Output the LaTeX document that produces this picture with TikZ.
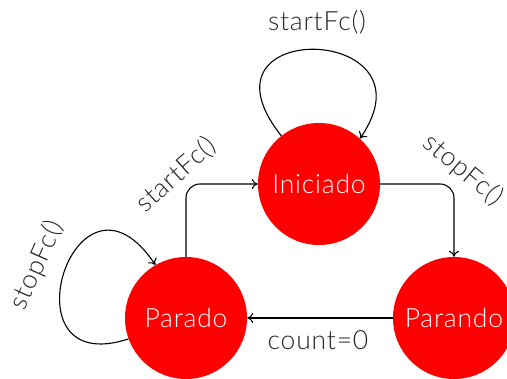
\documentclass[tikz,border=0pt]{standalone}
\usepackage{fontspec}
\setmainfont{Lato}[UprightFont=* Light, LetterSpace=3]
\usetikzlibrary{arrows.meta}
\tikzset{
  state/.style={circle, fill=red, draw=none, minimum size=122pt, inner sep=0pt, text=white, font=\fontsize{26.5}{30}\selectfont},
  lbl/.style={font=\fontsize{26.5}{30}\selectfont, text=black!85, inner sep=0pt},
  edge/.style={line width=1.1pt, -{To[length=6pt,width=10pt]}}
}
\begin{document}
\begin{tikzpicture}[x=1pt,y=1pt]
\useasboundingbox (0,0) rectangle (507,379);
\node[state] (ini) at (319,195) {Iniciado};
\node[state] (par) at (186,61) {Parado};
\node[state] (pnd) at (454,61) {Parando};
% self loops
\draw[edge] (ini.128) .. controls +(-95,119) and +(80,115) .. (ini.48);
\draw[edge] (par.200) .. controls +(-128,-42) and +(-80,120) .. (par.120);
% transitions
\draw[edge, rounded corners=14pt] (ini.east) -| (pnd.north);
\draw[edge, rounded corners=14pt] (par.north) |- (ini.west);
\draw[edge] (pnd.west) -- (par.east);
% labels
\node[lbl] (l1) at (317,357) {startFc()};
\node[lbl, rotate=42] (l2) at (176,204) {startFc()};
\node[lbl, rotate=-40] (l3) at (463,209) {stopFc()};
\node[lbl, rotate=66] (l4) at (37,114) {stopFc()};
\node[lbl] (l5) at (318,39) {count=0};
\end{tikzpicture}
\end{document}
